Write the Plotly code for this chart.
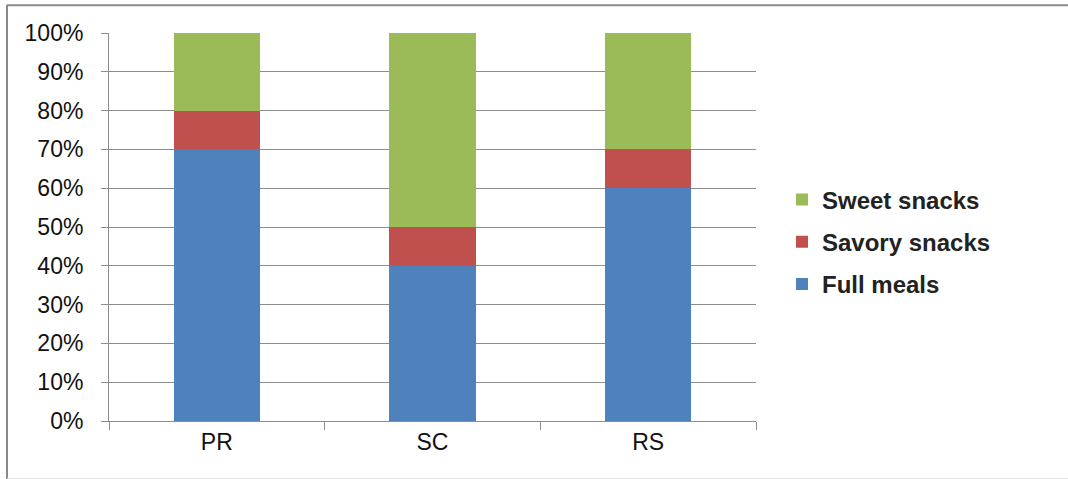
import plotly.graph_objects as go

# Share of each meal type per group (percent)
categories = ["PR", "SC", "RS"]
full_meals = [70, 40, 60]
savory_snacks = [10, 10, 10]
sweet_snacks = [20, 50, 30]
y_ticks = [0, 10, 20, 30, 40, 50, 60, 70, 80, 90, 100]
y_tick_labels = [f"{v}%" for v in y_ticks]

W, H = 1068, 479
L, R, T, B = 109, 756, 33.3, 420.7  # plot area in pixels

def px_x(px):
    return (px - L) / (R - L)

def px_y(py):
    return (B - py) / (B - T)

fig = go.Figure()
# stacked bottom to top; legend lists them top to bottom
series = [
    ("Full meals", full_meals, "#4F81BD", 3),
    ("Savory snacks", savory_snacks, "#C0504D", 2),
    ("Sweet snacks", sweet_snacks, "#9BBB59", 1),
]
for name, vals, color, rank in series:
    fig.add_trace(go.Bar(
        x=categories, y=vals, name=name, legendgroup=name, legendrank=rank,
        marker=dict(color=color, line=dict(width=0)),
    ))

grey = "#8c8c8c"
fig.update_layout(
    width=W, height=H,
    margin=dict(l=L, r=W - R, t=T, b=H - B),
    barmode="stack", bargap=0.6,
    paper_bgcolor="white", plot_bgcolor="white",
    font=dict(family="Liberation Sans, Arial, sans-serif", color="#111111"),
    showlegend=True,
    legend=dict(
        x=px_x(782), xanchor="left", y=px_y(242), yanchor="middle",
        traceorder="grouped", tracegroupgap=8,
        font=dict(size=24, color="#222222", family="Liberation Sans, Arial, sans-serif", weight="bold"),
        bgcolor="rgba(0,0,0,0)",
    ),
    xaxis=dict(
        showgrid=False, showline=True, linecolor=grey, linewidth=1,
        ticks="outside", tickson="boundaries", ticklen=8, tickcolor=grey,
        tickfont=dict(size=23), fixedrange=True,
    ),
    yaxis=dict(
        range=[0, 100], tickvals=y_ticks, ticktext=y_tick_labels,
        showgrid=True, gridcolor=grey, gridwidth=1,
        showline=True, linecolor=grey, linewidth=1,
        ticks="outside", ticklen=7, tickcolor=grey,
        tickfont=dict(size=23), ticklabelstandoff=13,
        zeroline=False, fixedrange=True,
    ),
    shapes=[
        dict(type="line", xref="paper", yref="paper",
             x0=px_x(7), x1=px_x(W), y0=px_y(5.5), y1=px_y(5.5),
             line=dict(color="#8a8a8a", width=2)),
        dict(type="line", xref="paper", yref="paper",
             x0=px_x(7), x1=px_x(7), y0=px_y(5), y1=px_y(H),
             line=dict(color="#8a8a8a", width=2)),
        dict(type="line", xref="paper", yref="paper",
             x0=px_x(7), x1=px_x(W), y0=px_y(478), y1=px_y(478),
             line=dict(color="#e4e4e4", width=1)),
    ],
)

fig.write_html("out.html")
